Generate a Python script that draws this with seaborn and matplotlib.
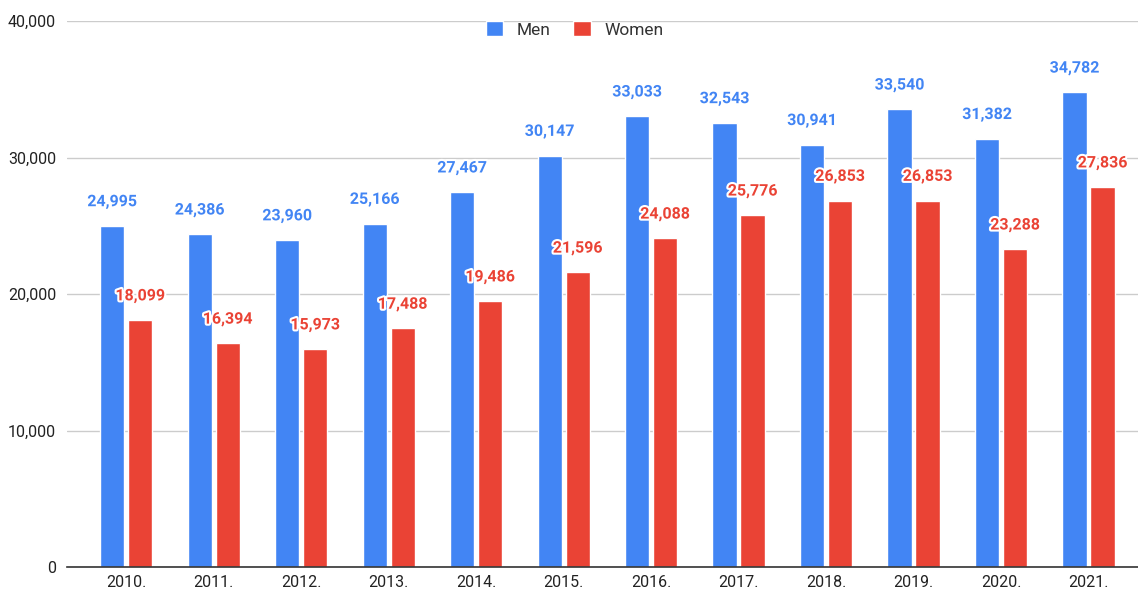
import matplotlib
matplotlib.use('Agg')
import matplotlib.pyplot as plt
import matplotlib.patheffects as pe
import pandas as pd
import seaborn as sns

# values
years = ['2010.', '2011.', '2012.', '2013.', '2014.', '2015.',
         '2016.', '2017.', '2018.', '2019.', '2020.', '2021.']
men = [24995, 24386, 23960, 25166, 27467, 30147, 33033, 32543, 30941, 33540, 31382, 34782]
women = [18099, 16394, 15973, 17488, 19486, 21596, 24088, 25776, 26853, 26853, 23288, 27836]

colors = {'Men': '#4285F4', 'Women': '#EA4335'}

df = pd.DataFrame({'year': years * 2,
                   'value': men + women,
                   'sex': ['Men'] * len(years) + ['Women'] * len(years)})

sns.set_style('white')
plt.rcParams['font.family'] = ['Roboto', 'DejaVu Sans']

fig = plt.figure(figsize=(11.38, 5.92), dpi=100)
ax = fig.add_axes([0.059, 0.042, 0.941, 0.9225])

sns.barplot(data=df, x='year', y='value', hue='sex', palette=colors,
            width=0.64, gap=0.14, saturation=1, ax=ax)

# value labels above each bar
for cont, name in zip(ax.containers, ['Men', 'Women']):
    labels = ax.bar_label(cont, labels=[f'{int(v):,}' for v in cont.datavalues],
                          padding=12, color=colors[name], fontsize=11.5,
                          fontweight='bold')
    for t in labels:
        t.set_path_effects([pe.withStroke(linewidth=3, foreground='white')])

ax.set_ylim(0, 40000)
ax.set_xlim(-0.674, 11.566)
ax.set_yticks([0, 10000, 20000, 30000, 40000])
ax.set_yticklabels([f'{v:,}' for v in [0, 10000, 20000, 30000, 40000]])
ax.yaxis.grid(True, color='#cccccc', linewidth=1)
ax.set_axisbelow(True)
ax.tick_params(axis='both', length=0, labelsize=11.5, colors='#222222')
ax.tick_params(axis='y', pad=8)
ax.tick_params(axis='x', pad=6)
ax.set_xlabel('')
ax.set_ylabel('')
for s in ['top', 'right', 'left']:
    ax.spines[s].set_visible(False)
ax.spines['bottom'].set_color('#333333')
ax.spines['bottom'].set_linewidth(1.2)

sns.move_legend(ax, 'center', bbox_to_anchor=(0.474, 0.985), ncol=2,
                frameon=False, title=None, fontsize=12.5,
                handlelength=1.0, handleheight=1.0, columnspacing=1.3,
                handletextpad=0.8)
for t in ax.get_legend().get_texts():
    t.set_color('#333333')

fig.savefig('out.png', dpi=100)
